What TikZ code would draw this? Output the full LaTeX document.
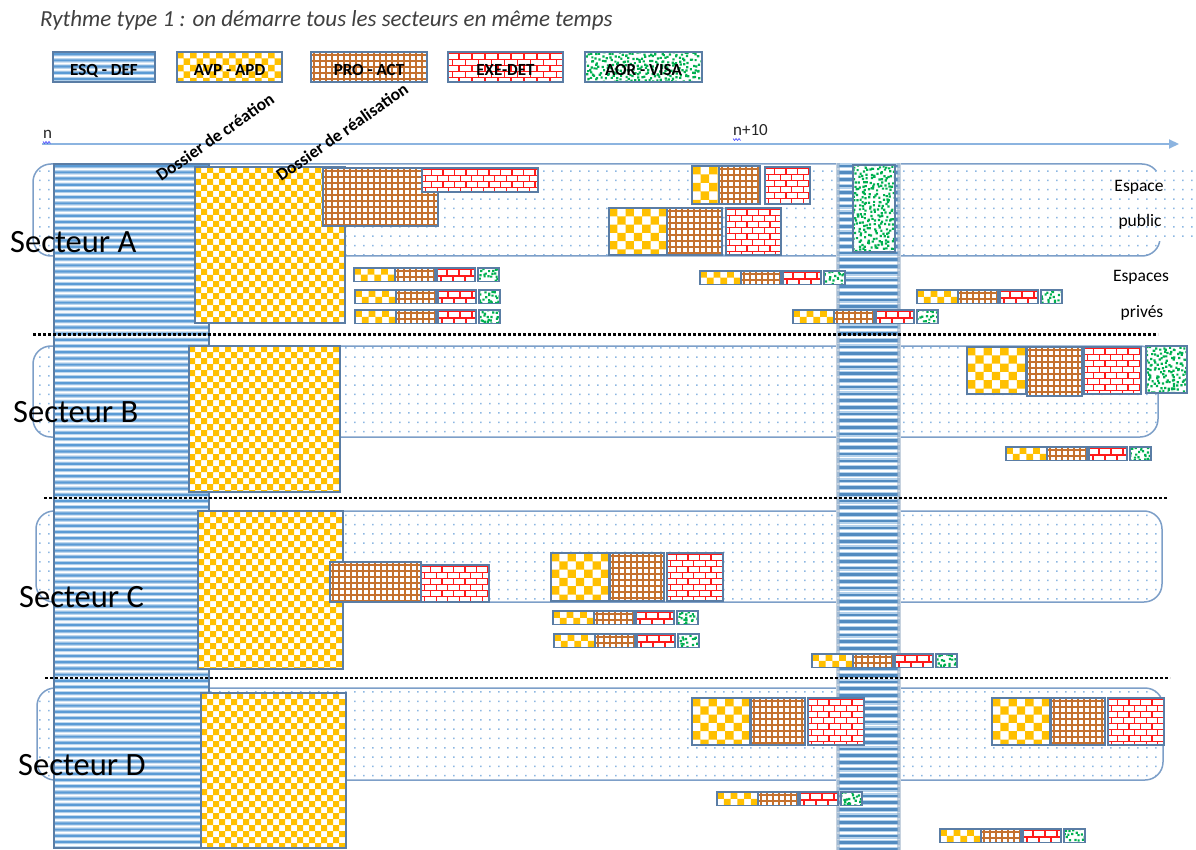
\documentclass[tikz,border=0pt]{standalone}
\usepackage{fontspec}
\setmainfont{Carlito}
\usetikzlibrary{arrows.meta}
\definecolor{cavp}{HTML}{FFC000}
\definecolor{cpro}{HTML}{C5712E}
\definecolor{cexe}{HTML}{FF1A1A}
\definecolor{caor}{HTML}{00B050}
\definecolor{cesq}{HTML}{5B9BD5}
\definecolor{cesql}{HTML}{BDD7EE}
\definecolor{cbx}{HTML}{5A7DA5}
\definecolor{csec}{HTML}{7D9FC8}
\definecolor{cdot}{HTML}{8DB7E2}
\definecolor{caxis}{HTML}{8CB4E0}
\definecolor{ctitle}{HTML}{404040}
\definecolor{cshade}{HTML}{8FA6C0}
\tikzset{
  bx/.style={draw=cbx,line width=1.3pt},
  lgd/.style={font=\bfseries\fontsize{17}{17}\selectfont,inner sep=0pt,anchor=base},
  sect/.style={font=\fontsize{32.5}{32.5}\selectfont,inner sep=0pt,anchor=base west},
  esp/.style={font=\fontsize{17.5}{17.5}\selectfont,inner sep=0pt,anchor=base},
  dossier/.style={font=\bfseries\fontsize{17.5}{17.5}\selectfont,inner sep=0pt,rotate=35},
  sepline/.style={black,line width=2.6pt,dash pattern=on 2.6pt off 2.4pt},
  squig/.style={blue!75!white,line width=0.6pt}
}
% dot grid (global alignment)
\newcommand\DotGrid[4]{%
  \pgfmathtruncatemacro\dgia{floor((#1)/9)}%
  \pgfmathtruncatemacro\dgib{ceil((#3)/9)}%
  \pgfmathtruncatemacro\dgja{floor((#2)/9.3)}%
  \pgfmathtruncatemacro\dgjb{ceil((#4)/9.3)}%
  \fill[cdot] \foreach \i in {\dgia,...,\dgib}{\foreach \j in {\dgja,...,\dgjb}{({\i*9+3},{\j*9.3+3}) rectangle ++(1.5,1.5)}};%
}
\newcommand\SecBox[4]{%
  \begin{scope}
    \clip[rounded corners=18pt] (#1,#2) rectangle (#3,#4);
    \fill[white] (#1,#2) rectangle (#3,#4);
    \DotGrid{#1}{#2}{#3}{#4}
  \end{scope}
  \draw[csec,line width=1.5pt,rounded corners=18pt] (#1,#2) rectangle (#3,#4);%
}
\newcommand\EsqFill[4]{%
  \begin{scope}
    \clip (#1,#2) rectangle (#3,#4);
    \fill[white] (#1,#2) rectangle (#3,#4);
    \pgfmathtruncatemacro\eqn{((#4)-(#2))/6.2+1}%
    \fill[cesql] \foreach \j in {0,...,\eqn}{(#1,{(#2)+\j*6.2}) rectangle (#3,{(#2)+\j*6.2+4.4})};
    \fill[cesq] \foreach \j in {0,...,\eqn}{(#1,{(#2)+\j*6.2+1.1}) rectangle (#3,{(#2)+\j*6.2+3.3})};
  \end{scope}
  \draw[bx] (#1,#2) rectangle (#3,#4);%
}
\newcommand\AvpBox[5]{%
  \begin{scope}
    \clip (#1,#2) rectangle (#3,#4);
    \fill[white] (#1,#2) rectangle (#3,#4);
    \pgfmathtruncatemacro\avx{ceil(((#3)-(#1))/(2*(#5)))}%
    \pgfmathtruncatemacro\avy{ceil(((#4)-(#2))/(#5))}%
    \fill[cavp] \foreach \j in {0,...,\avy}{\foreach \i in {0,...,\avx}{({(#1)+(2*\i+mod(\j,2))*(#5)},{(#2)+\j*(#5)}) rectangle ++(#5,#5)}};
  \end{scope}
  \draw[bx] (#1,#2) rectangle (#3,#4);%
}
\newcommand\ProBox[5]{%
  \begin{scope}
    \clip (#1,#2) rectangle (#3,#4);
    \fill[white] (#1,#2) rectangle (#3,#4);
    \pgfmathtruncatemacro\prx{ceil(((#3)-(#1))/(#5))}%
    \pgfmathtruncatemacro\pry{ceil(((#4)-(#2))/(#5))}%
    \draw[cpro,line width=1.25pt] \foreach \i in {0,...,\prx}{({(#1)+(\i+0.5)*(#5)},#2) -- ({(#1)+(\i+0.5)*(#5)},#4)}
       \foreach \j in {0,...,\pry}{(#1,{(#2)+(\j+0.5)*(#5)}) -- (#3,{(#2)+(\j+0.5)*(#5)})};
  \end{scope}
  \draw[bx] (#1,#2) rectangle (#3,#4);%
}
\newcommand\ExeBox[6]{%
  \begin{scope}
    \clip (#1,#2) rectangle (#3,#4);
    \fill[white] (#1,#2) rectangle (#3,#4);
    \pgfmathtruncatemacro\exy{ceil(((#4)-(#2))/(#5))}%
    \pgfmathtruncatemacro\exx{ceil(((#3)-(#1))/(#6))+1}%
    \draw[cexe,line width=1.2pt] \foreach \j in {0,...,\exy}{(#1,{(#2)+1.5+\j*(#5)}) -- (#3,{(#2)+1.5+\j*(#5)})}
       \foreach \j in {0,...,\exy}{\foreach \i in {0,...,\exx}{({(#1)+(\i+0.5*mod(\j,2))*(#6)-2},{(#2)+1.5+\j*(#5)}) -- ++(0,#5)}};
  \end{scope}
  \draw[bx] (#1,#2) rectangle (#3,#4);%
}
\newcommand\AorBox[5]{%
  \begin{scope}
    \clip (#1,#2) rectangle (#3,#4);
    \fill[white] (#1,#2) rectangle (#3,#4);
    \pgfmathsetseed{#5}%
    \pgfmathtruncatemacro\aox{ceil(((#3)-(#1))/3.9)}%
    \pgfmathtruncatemacro\aoy{ceil(((#4)-(#2))/3.9)}%
    \fill[caor] \foreach \i in {0,...,\aox}{\foreach \j in {0,...,\aoy}{({(#1)+(\i+rnd-0.3)*3.9},{(#2)+(\j+rnd-0.3)*3.9}) rectangle ++(2.2,2.2)}};
  \end{scope}
  \draw[bx] (#1,#2) rectangle (#3,#4);%
}
\newcommand\SRow[3]{%
  \pgfmathsetmacro\sra{#1+41}\pgfmathsetmacro\srb{#1+81}%
  \pgfmathsetmacro\src{#1+83}\pgfmathsetmacro\srd{#1+121}%
  \pgfmathsetmacro\sre{#1+124}\pgfmathsetmacro\srf{#1+145}%
  \pgfmathsetmacro\srg{#2+13.5}%
  \AvpBox{#1}{#2}{\sra}{\srg}{6.75}%
  \ProBox{\sra}{#2}{\srb}{\srg}{6}%
  \ExeBox{\src}{#2}{\srd}{\srg}{6.5}{12}%
  \AorBox{\sre}{#2}{\srf}{\srg}{#3}%
}
\begin{document}
\begin{tikzpicture}[x=1pt,y=-1pt]
\useasboundingbox (0,0) rectangle (1196,850);
\fill[white] (0,0) rectangle (1196,850);

% title
\node[anchor=base west,font=\itshape\fontsize{23}{24}\selectfont,text=ctitle,inner sep=0pt] (title) at (40,27) {Rythme type 1 : on démarre tous les secteurs en même temps};

% legend
\EsqFill{53}{52}{155}{82}
\AvpBox{177}{52}{282}{82}{6.5}
\ProBox{311}{52}{427}{82}{6}
\ExeBox{448}{52}{563}{82}{6}{13}
\AorBox{585}{52}{702}{82}{3}
\node[lgd] (lg1) at (104,76) {ESQ - DEF};
\node[lgd] (lg2) at (229.5,76) {AVP - APD};
\node[lgd] (lg3) at (369,76) {PRO - ACT};
\node[lgd] (lg4) at (505.5,76) {EXE-DET};
\node[lgd] (lg5) at (643.5,76) {AOR - VISA};

% axis
\coordinate (ax0) at (42,144);
\coordinate (ax1) at (1179,144);
\draw[caxis,line width=2pt,-{Triangle[length=10pt,width=9pt]}] (ax0) -- (ax1);
\node[anchor=base west,font=\fontsize{17}{17}\selectfont,inner sep=0pt,text=black!85] (n0) at (43,139) {n};
\node[anchor=base west,font=\fontsize{17}{17}\selectfont,inner sep=0pt,text=black!85] (n10) at (733,136) {n+10};
\draw[squig] (43,141.5) -- (44.5,143.5) -- (46,141.5) -- (47.5,143.5) -- (49,141.5) -- (50.5,143.5);
\draw[squig] (733,138.5) -- (734.5,140.5) -- (736,138.5) -- (737.5,140.5) -- (739,138.5) -- (740.5,140.5);

% sector frames
\SecBox{33}{164}{1160}{256}
\SecBox{33}{346}{1158}{437}
\SecBox{36}{511}{1162}{602}
\SecBox{37}{688}{1163}{780}
% Espace public overlay
\begin{scope}
  \clip (1098,171) rectangle (1196,241);
  \fill[white] (1098,171) rectangle (1196,241);
  \DotGrid{1098}{171}{1196}{241}
\end{scope}

% left ESQ band
\EsqFill{54}{164}{209}{848}

% central ESQ band
\fill[white] (836,163) rectangle (901,850);
\draw[cesq!45,line width=5pt] \foreach \j in {0,...,102}{(837,{166+\j*6.7}) -- (900,{166+\j*6.7})};
\draw[cesq!90!black,line width=2.6pt] \foreach \j in {0,...,102}{(839,{166+\j*6.7}) -- (898,{166+\j*6.7})};
\draw[cshade,line width=4pt,opacity=0.5] (838,163) -- (838,850) (899,163) -- (899,850);

% Secteur A
\AvpBox{195}{167}{345}{323}{6}
\ProBox{323}{168}{438}{226}{6}
\ExeBox{422}{168}{538}{192}{6}{11.5}
\AvpBox{692}{166}{719}{204}{8.5}
\ProBox{719}{166}{760}{204}{6}
\ExeBox{765}{167}{810}{204}{6}{11.5}
\AvpBox{609}{208}{667}{255}{8.3}
\ProBox{667}{208}{722}{255}{6}
\ExeBox{726}{208}{781}{255}{6}{11.5}
\AorBox{853}{165}{895}{252}{11}
\SRow{354}{268}{21}
\SRow{355}{290}{22}
\SRow{355}{310}{23}
\SRow{700}{271}{24}
\SRow{917}{290}{25}
\SRow{793}{310}{26}

% Secteur B
\AvpBox{189}{346}{340}{492}{6}
\AvpBox{967}{347}{1026}{394}{8.3}
\ProBox{1027}{347}{1082}{396}{6}
\ExeBox{1084}{347}{1141}{394}{6}{11.5}
\AorBox{1146}{346}{1187}{393}{31}
\SRow{1006}{447}{32}

% Secteur C
\AvpBox{198}{511}{343}{669}{6}
\ProBox{330}{562}{421}{602}{6}
\ExeBox{421}{565}{489}{602}{6}{11.5}
\AvpBox{551}{553}{609}{601}{8.3}
\ProBox{610}{553}{664}{601}{6}
\ExeBox{667}{553}{723}{601}{6}{11.5}
\SRow{553}{611}{41}
\SRow{554}{634}{42}
\SRow{812}{654}{43}

% Secteur D
\AvpBox{201}{693}{346}{848}{6}
\AvpBox{692}{698}{750}{745}{8.3}
\ProBox{751}{698}{805}{745}{6}
\ExeBox{808}{698}{864}{745}{6}{11.5}
\AvpBox{992}{698}{1050}{745}{8.3}
\ProBox{1051}{698}{1105}{745}{6}
\ExeBox{1108}{698}{1164}{745}{6}{11.5}
\SRow{717}{792}{51}
\SRow{940}{829}{52}

% separators
\draw[sepline] (33,334.5) -- (1158,334.5);
\draw[sepline] (44,498) -- (1168,498);
\draw[sepline] (45,678) -- (1170,678);

% rotated labels
\node[dossier] (dc) at (215,137) {Dossier de création};
\node[dossier] (dr) at (342,132) {Dossier de réalisation};

% sector labels
\node[sect] (sa) at (10,253) {Secteur A};
\node[sect] (sb) at (13,422) {Secteur B};
\node[sect] (sc) at (19,607) {Secteur C};
\node[sect] (sd) at (18,775) {Secteur D};

% espace labels
\node[esp] (e1) at (1139,192) {Espace};
\node[esp] (e2) at (1140,227) {public};
\node[esp] (e3) at (1141,281) {Espaces};
\node[esp] (e4) at (1142,317) {privés};
\end{tikzpicture}
\end{document}
